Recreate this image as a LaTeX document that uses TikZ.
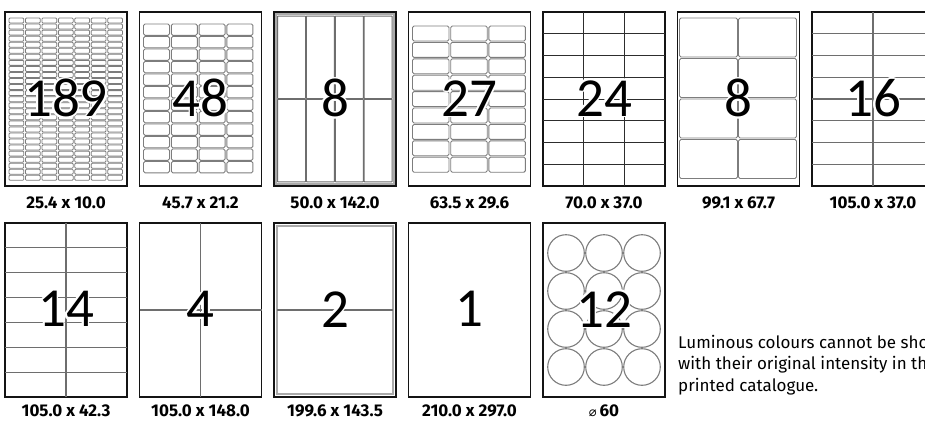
\documentclass[tikz,border=0pt]{standalone}
\usepackage{fontspec}
\setmainfont{Fira Sans}
\newfontfamily\countfont{Carlito}
\newfontfamily\symfont{DejaVu Sans}
\usepackage{contour}
\contourlength{1.6pt}
\usetikzlibrary{positioning,calc}
\definecolor{SheetEdge}{RGB}{20,20,20}
\definecolor{LabelGrey}{RGB}{125,125,125}
\definecolor{GridGrey}{RGB}{110,110,110}
\definecolor{GridDark}{RGB}{45,45,45}
\definecolor{FrameGrey}{RGB}{170,170,170}
\tikzset{
  sheet/.style={draw=SheetEdge,fill=white,line width=1.3pt,outer sep=0pt,inner sep=0pt,
    minimum width=122pt,minimum height=174pt},
  tinylbl/.style={draw=LabelGrey,line width=0.8pt,rounded corners=1pt},
  lbl/.style={draw=LabelGrey,line width=0.9pt,rounded corners=1.5pt},
  striplbl/.style={draw=GridGrey,line width=1pt,rounded corners=0.5pt},
  gridline/.style={draw=GridGrey,line width=1.1pt},
  darkgrid/.style={draw=GridDark,line width=1pt},
  frame/.style={draw=FrameGrey,line width=1.2pt},
  disc/.style={draw=LabelGrey,line width=1.1pt},
  count/.style={inner sep=0pt,font=\countfont\fontsize{55}{55}\selectfont},
  dims/.style={inner sep=0pt,font=\fontsize{17}{17}\selectfont\bfseries},
  note/.style={inner sep=0pt,align=left,anchor=north west,
    font=\fontsize{17}{21.5}\selectfont}
}
\begin{document}
\begin{tikzpicture}[x=1pt,y=1pt,node distance=12.5pt]
  \useasboundingbox (0,0) rectangle (925,-421);
  % sheets, first row
  \node[sheet] (n189) at (66,-99) {};
  \node[sheet,right=of n189] (n48) {};
  \node[sheet,right=of n48] (n8a) {};
  \node[sheet,right=of n8a] (n27) {};
  \node[sheet,right=of n27] (n24) {};
  \node[sheet,right=of n24] (n8b) {};
  \node[sheet,right=of n8b] (n16) {};
  % sheets, second row
  \node[sheet,below=37pt of n189] (n14) {};
  \node[sheet,right=of n14] (n4) {};
  \node[sheet,right=of n4] (n2) {};
  \node[sheet,right=of n2] (n1) {};
  \node[sheet,right=of n1] (n12) {};

  % label layouts
  \foreach \c in {0,...,6}
    \foreach \r in {0,...,26}
      \draw[tinylbl] ($(n189.north west)+(4+16.45*\c,-6-6.05*\r)$) rectangle ++(14.8,-5);
  \foreach \c in {0,...,3}
    \foreach \r in {0,...,11}
      \draw[lbl] ($(n48.north west)+(4+27.8*\c,-12-12.5*\r)$) rectangle ++(26,-11.3);
  \draw[frame] ($(n8a.north west)+(2,-2)$) rectangle ($(n8a.south east)+(-2,2)$);
  \foreach \c in {0,...,3}
    \foreach \r in {0,1}
      \draw[striplbl] ($(n8a.north west)+(3.5+28.9*\c,-4-83.3*\r)$) rectangle ++(28,-82.5);
  \foreach \c in {0,1,2}
    \foreach \r in {0,...,8}
      \draw[lbl] ($(n27.north west)+(4+38.2*\c,-14-16.4*\r)$) rectangle ++(36.5,-15);
  \foreach \r in {1,...,7}
    \draw[darkgrid] ($(n24.north west)+(0,-21.75*\r)$) -- ($(n24.north east)+(0,-21.75*\r)$);
  \foreach \c in {1,2}
    \draw[darkgrid] ($(n24.north west)+(40.67*\c,0)$) -- ($(n24.south west)+(40.67*\c,0)$);
  \foreach \c in {0,1}
    \foreach \r in {0,...,3}
      \draw[lbl] ($(n8b.north west)+(2+59*\c,-6-40.5*\r)$) rectangle ++(58,-39);
  \foreach \r in {1,...,7}
    \draw[gridline] ($(n16.north west)+(0,-21.75*\r)$) -- ($(n16.north east)+(0,-21.75*\r)$);
  \draw[gridline] (n16.north) -- (n16.south);
  \foreach \r in {1,...,6}
    \draw[gridline] ($(n14.north west)+(0,-24.857*\r)$) -- ($(n14.north east)+(0,-24.857*\r)$);
  \draw[gridline] (n14.north) -- (n14.south);
  \draw[gridline] (n4.north) -- (n4.south);
  \draw[gridline] (n4.west) -- (n4.east);
  \draw[frame] ($(n2.north west)+(3,-3)$) rectangle ($(n2.south east)+(-3,3)$);
  \draw[gridline] ($(n2.west)+(3,0)$) -- ($(n2.east)+(-3,0)$);
  \foreach \c in {0,1,2}
    \foreach \r in {0,...,3}
      \draw[disc] ($(n12.north west)+(23+38*\c,-30-38*\r)$) circle (18.3);

  % label counts
  \node[count] (c189) at (n189) {\contour{white}{189}};
  \node[count] (c48) at (n48) {\contour{white}{48}};
  \node[count] (c8a) at (n8a) {\contour{white}{8}};
  \node[count] (c27) at (n27) {\contour{white}{27}};
  \node[count] (c24) at (n24) {\contour{white}{24}};
  \node[count] (c8b) at (n8b) {\contour{white}{8}};
  \node[count] (c16) at (n16) {\contour{white}{16}};
  \node[count] (c14) at (n14) {\contour{white}{14}};
  \node[count] (c4) at (n4) {\contour{white}{4}};
  \node[count] (c2) at (n2) {\contour{white}{2}};
  \node[count] (c1) at (n1) {\contour{white}{1}};
  \node[count] (c12) at (n12) {\contour{white}{12}};

  % label sizes
  \node[dims,below=11pt of n189] (l189) {25.4 x 10.0};
  \node[dims,below=11pt of n48] (l48) {45.7 x 21.2};
  \node[dims,below=11pt of n8a] (l8a) {50.0 x 142.0};
  \node[dims,below=11pt of n27] (l27) {63.5 x 29.6};
  \node[dims,below=11pt of n24] (l24) {70.0 x 37.0};
  \node[dims,below=11pt of n8b] (l8b) {99.1 x 67.7};
  \node[dims,below=11pt of n16] (l16) {105.0 x 37.0};
  \node[dims,below=7.5pt of n14] (l14) {105.0 x 42.3};
  \node[dims,below=7.5pt of n4] (l4) {105.0 x 148.0};
  \node[dims,below=7.5pt of n2] (l2) {199.6 x 143.5};
  \node[dims,below=7.5pt of n1] (l1) {210.0 x 297.0};
  \node[dims,below=7.5pt of n12] (l12) {{\symfont\mdseries\fontsize{13}{13}\selectfont ⌀}\,60};

  \node[note] (lumi) at (678,-335) {Luminous colours cannot be shown\\with their original intensity in the\\printed catalogue.};
\end{tikzpicture}
\end{document}
